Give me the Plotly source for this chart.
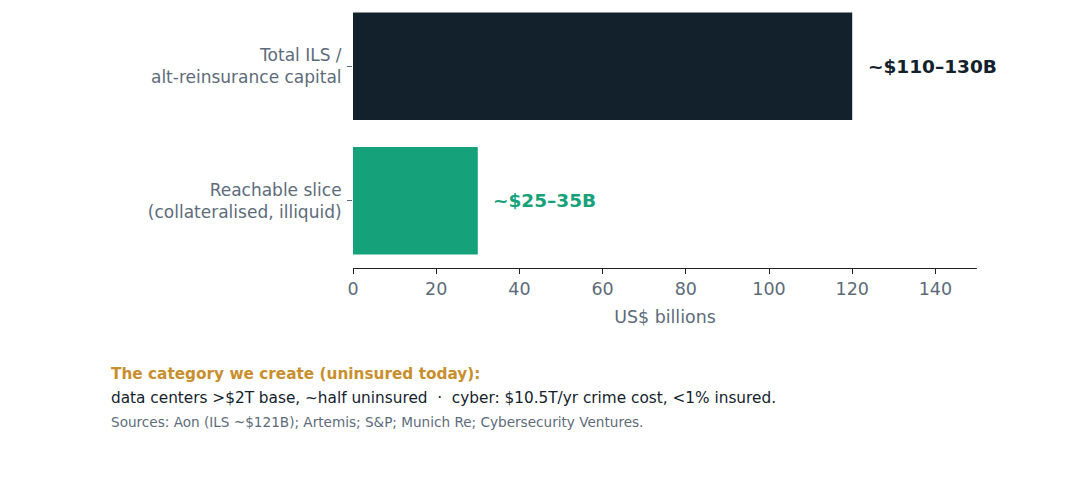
import plotly.graph_objects as go

categories = ["Total ILS /<br>alt-reinsurance capital", "Reachable slice<br>(collateralised, illiquid)"]
values = [120, 30]
value_labels = ["~$110–130B", "~$25–35B"]
bar_colors = ["#13212c", "#15a27a"]
x_ticks = [0, 20, 40, 60, 80, 100, 120, 140]

FONT = "DejaVu Sans"
GREY = "#5d6b7a"

fig = go.Figure()
fig.add_trace(go.Bar(
    y=categories, x=values, orientation="h",
    marker=dict(color=bar_colors, line=dict(width=0)),
    width=0.8, hoverinfo="skip", showlegend=False,
))

for cat, v, lab, col in zip(categories, values, value_labels, bar_colors):
    fig.add_annotation(x=v + 3.2, y=cat, text=f"<b>{lab}</b>", showarrow=False,
                       xanchor="left", yanchor="middle",
                       font=dict(family=FONT, size=18.5, color=col))

fig.add_annotation(xref="paper", yref="paper", x=-0.391, y=-0.4077,
                   text="<b>The category we create (uninsured today):</b>",
                   showarrow=False, xanchor="left", yanchor="middle",
                   font=dict(family=FONT, size=15.3, color="#c98f2e"))
fig.add_annotation(xref="paper", yref="paper", x=-0.391, y=-0.5,
                   text="data centers >$2T base, ~half uninsured  ·  cyber: $10.5T/yr crime cost, <1% insured.",
                   showarrow=False, xanchor="left", yanchor="middle",
                   font=dict(family=FONT, size=15.3, color="#14222d"))
fig.add_annotation(xref="paper", yref="paper", x=-0.391, y=-0.5923,
                   text="Sources: Aon (ILS ~$121B); Artemis; S&P; Munich Re; Cybersecurity Ventures.",
                   showarrow=False, xanchor="left", yanchor="middle",
                   font=dict(family=FONT, size=13.6, color=GREY))

fig.update_layout(
    width=1080, height=502,
    margin=dict(l=345, r=111, t=0, b=242),
    paper_bgcolor="white", plot_bgcolor="white",
    font=dict(family=FONT, color=GREY),
    xaxis=dict(range=[0, 150], tickvals=x_ticks, showgrid=False, zeroline=False,
               showline=True, linecolor="#222222", linewidth=1.2,
               ticks="outside", ticklen=5, tickcolor="#222222",
               tickfont=dict(size=17.5, color=GREY),
               title=dict(text="US$ billions", font=dict(size=17.4, color=GREY), standoff=12)),
    yaxis=dict(categoryorder="array", categoryarray=categories, range=[1.5, -0.433],
               showgrid=False, zeroline=False, showline=False,
               ticks="outside", ticklen=5, tickcolor=GREY, ticklabelstandoff=2,
               tickfont=dict(size=17, color=GREY)),
)

fig.write_html("out.html")
